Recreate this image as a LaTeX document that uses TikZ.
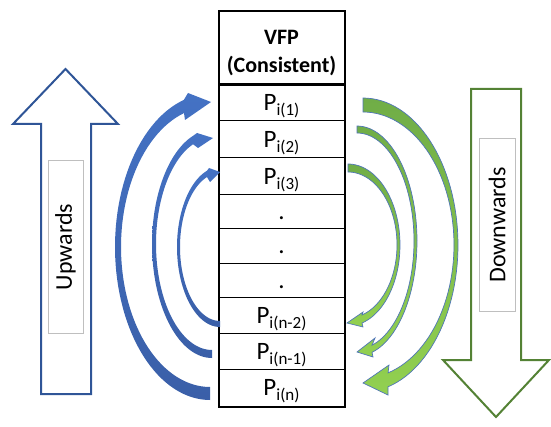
\documentclass[tikz,border=0pt]{standalone}
\usepackage{fontspec}
\setmainfont{Carlito}
\definecolor{upblue}{HTML}{2F5597}
\definecolor{arcblue}{HTML}{4472C4}
\definecolor{arcbluedark}{HTML}{3A5FA8}
\definecolor{downgreen}{HTML}{548235}
\definecolor{arcgreen}{HTML}{70AD47}
\definecolor{arcgreenlight}{HTML}{92D050}
\definecolor{arcedge}{HTML}{4F75B8}
\definecolor{labelgray}{HTML}{BFBFBF}
\newcommand{\pcell}[1]{P\raisebox{-2.5pt}{\fontsize{8.5}{9}\selectfont i(#1)}}
\begin{document}
\begin{tikzpicture}[x=0.5pt,y=-0.5pt,
  cell/.style={draw=black,line width=0.5pt,minimum width=62.5pt,inner sep=0pt,
    text height=8pt,text depth=0pt,font=\fontsize{12.5}{14}\selectfont},
  hdr/.style={draw=black,line width=0.5pt,minimum width=62.5pt,minimum height=36pt,inner sep=0pt},
  hdrtext/.style={inner sep=0pt,align=center,font=\bfseries\fontsize{11}{14}\selectfont},
  bigarrow/.style={line width=1pt,fill=white,line join=miter},
  labelbox/.style={draw=labelgray,line width=0.5pt,rotate=90,inner sep=0pt,
    minimum width=86pt,font=\fontsize{12}{14}\selectfont},
  bluearc/.style={top color=arcblue,bottom color=arcbluedark},
  greenarc/.style={top color=arcgreen,bottom color=arcgreenlight,draw=arcedge,line width=0.35pt}
]
\useasboundingbox (0,0) rectangle (551,427);

% big direction arrows
\draw[bigarrow,draw=upblue] (41,394) -- (41,124) -- (13,124) -- (65.5,69) -- (118,124)
  -- (91,124) -- (91,394) -- cycle;
\node[labelbox,minimum height=17.5pt] (up) at (65.5,247) {Upwards};
\draw[bigarrow,draw=downgreen] (471,89) -- (521,89) -- (521,360) -- (549,360) -- (496,417)
  -- (443,360) -- (471,360) -- cycle;
\node[labelbox,minimum height=18pt] (down) at (497,225) {Downwards};

% table
\node[hdr] (hdr) at (281.5,48) {};
\node[hdrtext] (hdrlabel) at (281.5,53) {VFP\\(Consistent)};
\node[cell,minimum height=18.5pt] (r1) at (281.5,102.5) {\pcell{1}};
\node[cell,minimum height=18.5pt] (r2) at (281.5,139.5) {\pcell{2}};
\node[cell,minimum height=18.5pt] (r3) at (281.5,176.5) {\pcell{3}};
\node[cell,minimum height=17pt] (r4) at (281.5,212) {.};
\node[cell,minimum height=17pt] (r5) at (281.5,246) {.};
\node[cell,minimum height=17pt] (r6) at (281.5,280) {.};
\node[cell,minimum height=18pt] (r7) at (281.5,315) {\pcell{n-2}};
\node[cell,minimum height=18pt] (r8) at (281.5,351) {\pcell{n-1}};
\node[cell,minimum height=18.5pt] (r9) at (281.5,387.5) {\pcell{n}};
\draw[line width=1pt] (hdr.north west) rectangle (r9.south east);
\draw[line width=1.2pt] (hdr.south west) -- (hdr.south east);

% blue curved arrows (upwards)
\shade[bluearc] plot[domain=90:254,samples=60] ({210+95*cos(\x)},{247+153*sin(\x)})
  -- (188,93) -- (211,102) -- (185,120)
  -- plot[domain=253:90,samples=60] ({210+89*cos(\x)},{247+140*sin(\x)}) -- cycle;
\shade[bluearc] plot[domain=90:251.5,samples=60] ({212+60*cos(\x)},{244+114*sin(\x)})
  -- (197,133) -- (213,138) -- (198,148)
  -- plot[domain=250.2:90,samples=60] ({212+56*cos(\x)},{244+106*sin(\x)}) -- cycle;
\shade[bluearc] plot[domain=90:252.4,samples=60] ({220+43*cos(\x)},{247+80*sin(\x)})
  -- (209,168) -- (220,172) -- (210,182)
  -- plot[domain=251:90,samples=60] ({220+40*cos(\x)},{247+74*sin(\x)}) -- cycle;

% green curved arrows (downwards)
\shadedraw[greenarc] plot[domain=-90:74.7,samples=60] ({363+95*cos(\x)},{245+147*sin(\x)})
  -- (388,395) -- (363,383) -- (389,365)
  -- plot[domain=74:-90,samples=60] ({363+91*cos(\x)},{245+133*sin(\x)}) -- cycle;
\shadedraw[greenarc] plot[domain=-90:75.5,samples=60] ({357+60*cos(\x)},{241+115*sin(\x)})
  -- (373,357) -- (357,352) -- (375,338)
  -- plot[domain=74.7:-90,samples=60] ({357+57*cos(\x)},{241+108*sin(\x)}) -- cycle;
\shadedraw[greenarc] plot[domain=-90:74.4,samples=60] ({348+52*cos(\x)},{245+81*sin(\x)})
  -- (363,327) -- (347,323) -- (363,312)
  -- plot[domain=73.4:-90,samples=60] ({348+49*cos(\x)},{245+73*sin(\x)}) -- cycle;
\end{tikzpicture}
\end{document}
